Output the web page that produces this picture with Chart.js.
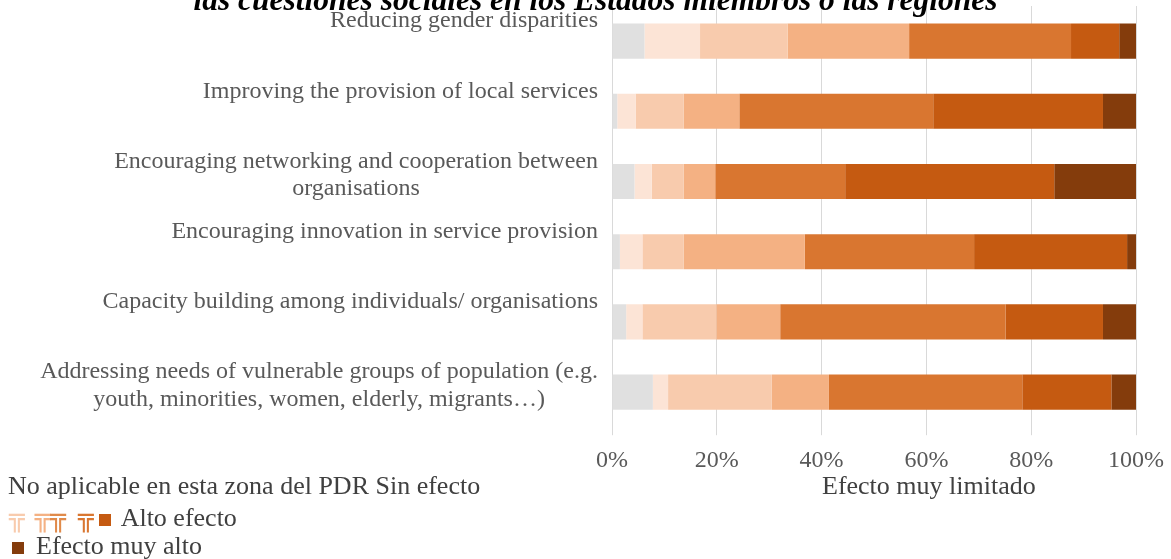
<!DOCTYPE html>
<html>
<head>
<meta charset="utf-8">
<script src="https://cdn.jsdelivr.net/npm/chart.js@4.4.1/dist/chart.umd.min.js"></script>
<style>
  html, body { margin: 0; padding: 0; background: #fff; }
  #wrap { position: relative; width: 1171px; height: 559px; overflow: hidden; font-family: "Liberation Serif", "Times New Roman", serif; }
  #social-chart { position: absolute; left: 0; top: 0; }
  #chart-title { position: absolute; left: 0; top: -16px; width: 1191px; text-align: center; font-size: 31.5px; line-height: 31px; font-weight: bold; font-style: italic; color: #000; white-space: nowrap; }
  #social-legend div { position: absolute; left: 8px; font-size: 26px; line-height: 30px; color: #404040; white-space: nowrap; }
  .glyph { display: inline-block; font-family: "DejaVu Sans", sans-serif; font-size: 26px; }
  .box { display: inline-block; width: 12px; height: 12px; }
</style>
</head>
<body>
<div id="wrap">
  <canvas id="social-chart" width="1171" height="486"></canvas>
  <div id="chart-title">las cuestiones sociales en los Estados miembros o las regiones</div>
  <div id="social-legend"></div>
</div>
<script>
// categorias, de arriba abajo
const categories = [
    ['Reducing gender disparities'],
    ['Improving the provision of local services'],
    ['Encouraging networking and cooperation between', 'organisations'],
    ['Encouraging innovation in service provision'],
    ['Capacity building among individuals/ organisations'],
    ['Addressing needs of vulnerable groups of population (e.g.', 'youth, minorities, women, elderly, migrants…)']
];

// % de respuestas por nivel de efecto
const noAplicable  = [6.2, 1.0, 4.3, 1.5, 2.7, 7.8];
const sinEfecto    = [10.6, 3.5, 3.3, 4.3, 3.1, 2.9];
const muyLimitado  = [16.7, 9.2, 6.1, 7.9, 14.1, 19.8];
const limitado     = [23.2, 10.6, 6.0, 23.1, 12.2, 10.9];
const moderado     = [30.9, 37.0, 24.8, 32.3, 43.0, 36.9];
const alto         = [9.2, 32.4, 39.9, 29.2, 18.6, 17.0];
const muyAlto      = [3.2, 6.3, 15.6, 1.7, 6.3, 4.7];

const seriesNames = ['No aplicable en esta zona del PDR', 'Sin efecto', 'Efecto muy limitado', 'Efecto limitado', 'Efecto moderado', 'Alto efecto', 'Efecto muy alto'];
const seriesData = [noAplicable, sinEfecto, muyLimitado, limitado, moderado, alto, muyAlto];
const seriesColors = ['#e0e0e0', '#fce4d6', '#f8cbad', '#f4b183', '#d97630', '#c55a11', '#843c0c'];

const xTicks = [0, 20, 40, 60, 80, 100];

Chart.defaults.font.family = '"Liberation Serif", "Times New Roman", serif';

// etiquetas de categoria: bloque alineado a la derecha, lineas centradas entre si
const categoryLabels = {
    id: 'categoryLabels',
    afterDraw: function (chart) {
        let ctx = chart.ctx;
        let yScale = chart.scales.y;
        let right = chart.chartArea.left - 14;
        ctx.save();
        ctx.font = '24px "Liberation Serif", "Times New Roman", serif';
        ctx.fillStyle = '#595959';
        ctx.textAlign = 'center';
        ctx.textBaseline = 'middle';
        categories.forEach(function (lines, i) {
            let widest = Math.max.apply(null, lines.map(l => ctx.measureText(l).width));
            let top = yScale.getPixelForTick(i) - 20;
            lines.forEach(function (line, k) {
                ctx.fillText(line, right - widest / 2, top + k * 27.6);
            });
        });
        ctx.restore();
    }
};

let socialChartDraw = function () {
    let ctx = document.getElementById('social-chart').getContext('2d');

    window.socialChart = new Chart(ctx, {
        type: 'bar',
        data: {
            labels: categories,
            datasets: seriesData.map(function (values, i) {
                return {
                    label: seriesNames[i],
                    data: values,
                    backgroundColor: seriesColors[i],
                    borderWidth: 0,
                    barPercentage: 0.5,
                    categoryPercentage: 1
                };
            })
        },
        options: {
            indexAxis: 'y',
            responsive: false,
            animation: false,
            layout: { padding: { left: 604, right: 35, top: 6, bottom: 0 } },
            plugins: {
                legend: { display: false },
                tooltip: { enabled: false }
            },
            scales: {
                x: {
                    stacked: true,
                    min: 0,
                    max: 100,
                    afterBuildTicks: function (axis) {
                        axis.ticks = xTicks.map(v => ({ value: v }));
                    },
                    // el "100%" puede salirse del area, no reservar hueco
                    afterFit: function (axis) {
                        axis.paddingRight = 0;
                    },
                    border: { display: false },
                    grid: { color: '#d9d9d9', lineWidth: 1, tickLength: 8 },
                    ticks: {
                        padding: 11,
                        color: '#595959',
                        font: { size: 24 },
                        maxRotation: 0,
                        callback: v => v + '%'
                    }
                },
                y: {
                    stacked: true,
                    border: { display: false },
                    grid: { display: false },
                    ticks: { display: false }
                }
            }
        },
        plugins: [categoryLabels]
    });
};

// leyenda tal como sale en el informe
let customLegend = function () {
    let box = (c, ml, mr) => `<span class="box" style="background-color: ${c}; margin-left: ${ml}px; margin-right: ${mr}px;"></span>`;
    let glyph = (c, ml) => `<span class="glyph" style="color: ${c}; margin-left: ${ml}px;">╦</span>`;
    let html = '';
    html += `<div style="top: 471px;">${seriesNames[0]} ${seriesNames[1]}</div>`;
    html += `<div style="top: 471px; left: 822px;">${seriesNames[2]}</div>`;
    html += `<div style="top: 502px;">${glyph(seriesColors[2], 1)}${glyph(seriesColors[3], 10)}${glyph('#e08a4a', 0)}${glyph(seriesColors[4], 12)}${box(seriesColors[5], 5, 10)}${seriesNames[5]}</div>`;
    html += `<div style="top: 531px;">${box(seriesColors[6], 4, 12)}${seriesNames[6]}</div>`;
    return html;
};

socialChartDraw();
document.getElementById('social-legend').innerHTML = customLegend();
</script>
</body>
</html>
